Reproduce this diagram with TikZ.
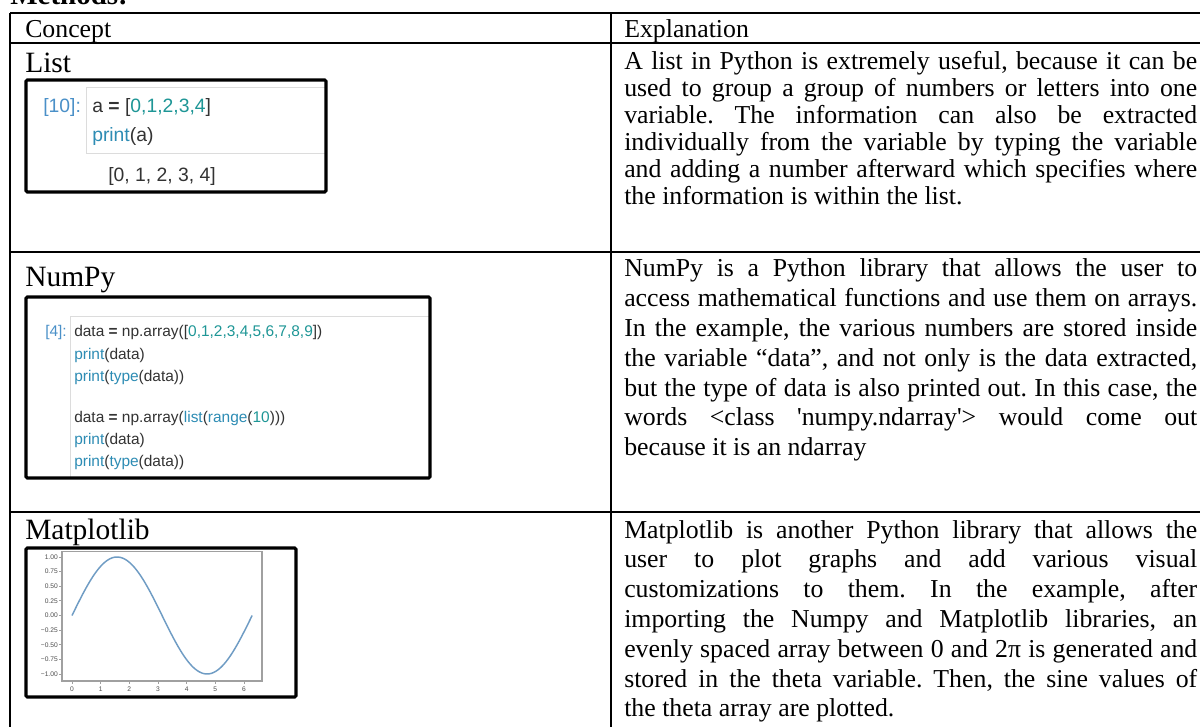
\documentclass[tikz,border=0pt]{standalone}
\usepackage{fontspec}
\setmainfont{Liberation Serif}
\newfontfamily\codefont{Liberation Sans}
\definecolor{numc}{HTML}{1E9696}
\definecolor{bic}{HTML}{2D8CB4}
\definecolor{promptc}{HTML}{4A90C8}
\definecolor{codec}{HTML}{333333}
\definecolor{cellc}{HTML}{DCDCDC}
\definecolor{axc}{HTML}{A0A0A0}
\definecolor{sinec}{HTML}{6F9CC4}
\newcommand\jl[1]{\makebox[429.75pt][s]{#1}}
\newcommand\bodyfont{\frenchspacing\fontsize{19.35pt}{22.35pt}\selectfont}
\newcommand\bodyfontA{\frenchspacing\fontsize{19.35pt}{20.25pt}\selectfont}
\newcommand\cnum[1]{\textcolor{numc}{#1}}
\newcommand\cbi[1]{\textcolor{bic}{#1}}
\tikzset{
  rule/.style={line width=1.5pt},
  txt/.style={anchor=base west, inner sep=0pt},
  head/.style={txt, font=\fontsize{19.35pt}{22pt}\selectfont},
  label/.style={txt, font=\fontsize{22.1pt}{26pt}\selectfont},
  codeA/.style={txt, text=codec, font=\codefont\fontsize{14.5pt}{17pt}\selectfont},
  codeB/.style={txt, text=codec, font=\codefont\fontsize{11.6pt}{14pt}\selectfont},
  prompt/.style={text=promptc},
  cell/.style={draw=cellc, line width=0.6pt, fill=white},
  frame/.style={draw=black, line width=2.3pt, rounded corners=1pt},
  tick/.style={txt, anchor=center, text=black!70, font=\codefont\fontsize{5pt}{6pt}\selectfont},
}
\begin{document}
\begin{tikzpicture}[x=0.75pt,y=-0.75pt]
\useasboundingbox (0,0) rectangle (1200,727);
\clip (0,0) rectangle (1200,727);
\fill[white] (0,0) rectangle (1200,727);
% title
\node[txt, font=\fontsize{21.75pt}{26pt}\selectfont\bfseries] (title) at (10,5) {Methods:};
% table rules
\draw[rule] (10,13) -- (1200,13);
\draw[rule] (10,43) -- (1200,43);
\draw[rule] (10,252) -- (1200,252);
\draw[rule] (10,512) -- (1200,512);
\draw[rule] (10,13) -- (10,727);
\draw[rule] (611,13) -- (611,727);
% headers
\node[head] (hc) at (25,38) {Concept};
\node[head] (he) at (624,38) {Explanation};
% labels
\node[label] (lList) at (25,73) {List};
\node[label] (lNum) at (25,287) {NumPy};
\node[label] (lMat) at (25,539) {Matplotlib};
% explanations
\node[txt] (t1) at (624,70) {\parbox[t]{429.75pt}{\bodyfontA
\jl{A list in Python is extremely useful, because it can be}\\
\jl{used to group a group of numbers or letters into one}\\
\jl{variable. The information can also be extracted}\\
\jl{individually from the variable by typing the variable}\\
\jl{and adding a number afterward which specifies where}\\
the information is within the list.}};
\node[txt] (t2) at (624,277) {\parbox[t]{429.75pt}{\bodyfont
\jl{NumPy is a Python library that allows the user to}\\
\jl{access mathematical functions and use them on arrays.}\\
\jl{In the example, the various numbers are stored inside}\\
\jl{the variable “data”, and not only is the data extracted,}\\
\jl{but the type of data is also printed out. In this case, the}\\
\jl{words <class \textquotesingle numpy.ndarray\textquotesingle> would come out}\\
because it is an ndarray}};
\node[txt] (t3) at (624,538) {\parbox[t]{429.75pt}{\bodyfont
\jl{Matplotlib is another Python library that allows the}\\
\jl{user to plot graphs and add various visual}\\
\jl{customizations to them. In the example, after}\\
\jl{importing the Numpy and Matplotlib libraries, an}\\
\jl{evenly spaced array between 0 and 2π is generated and}\\
\jl{stored in the theta variable. Then, the sine values of}\\
the theta array are plotted.}};
% code box 1
\begin{scope}
\clip (26,80) rectangle (326,192);
\draw[cell] (86,87) rectangle (340,153);
\end{scope}
\node[codeA, prompt] (p1) at (43,113) {[10]:};
\node[codeA] (c1a) at (92,113) {a \textbf{=} [\cnum{0,1,2,3,4}]};
\node[codeA] (c1b) at (92,142) {\cbi{print}(a)};
\node[codeA] (c1o) at (108,182) {[0, 1, 2, 3, 4]};
\draw[frame] (26,80) rectangle (326,192);
% code box 2
\begin{scope}
\clip (26,297) rectangle (430,478);
\draw[cell] (70,316) rectangle (450,500);
\end{scope}
\node[codeB, prompt] (p2) at (45,337) {[4]:};
\node[codeB] (c2a) at (74,337) {data \textbf{=} np.array([\cnum{0,1,2,3,4,5,6,7,8,9}])};
\node[codeB] (c2b) at (74,359.5) {\cbi{print}(data)};
\node[codeB] (c2c) at (74,382) {\cbi{print}(\cbi{type}(data))};
\node[codeB] (c2d) at (74,422) {data \textbf{=} np.array(\cbi{list}(\cbi{range}(\cnum{10})))};
\node[codeB] (c2e) at (74,444) {\cbi{print}(data)};
\node[codeB] (c2f) at (74,466.5) {\cbi{print}(\cbi{type}(data))};
\draw[frame] (26,297) rectangle (430,478);
% plot
\draw[axc, line width=0.8pt] (62,551.5) rectangle (262,681);
\foreach \v/\s [count=\i] in {1/1.00,0.75/0.75,0.5/0.50,0.25/0.25,0/0.00,-0.25/−0.25,-0.5/−0.50,-0.75/−0.75,-1/−1.00}{
  \draw[axc, line width=0.6pt] (62,{615.5-58.5*\v}) -- (59,{615.5-58.5*\v});
  \node[tick, anchor=east] (yl\i) at (58,{615.5-58.5*\v}) {\s};
}
\foreach \k in {0,...,6}{
  \draw[axc, line width=0.6pt] ({72+28.67*\k},681) -- ({72+28.67*\k},684);
  \node[tick] (xl\k) at ({72+28.67*\k},689) {\k};
}
\draw[sinec, line width=1.1pt] plot[domain=0:6.2832, samples=90, smooth, variable=\t] ({72+28.67*\t},{615.5-58.5*sin(\t r)});
\draw[frame] (26,548) rectangle (296,697);
\end{tikzpicture}
\end{document}
